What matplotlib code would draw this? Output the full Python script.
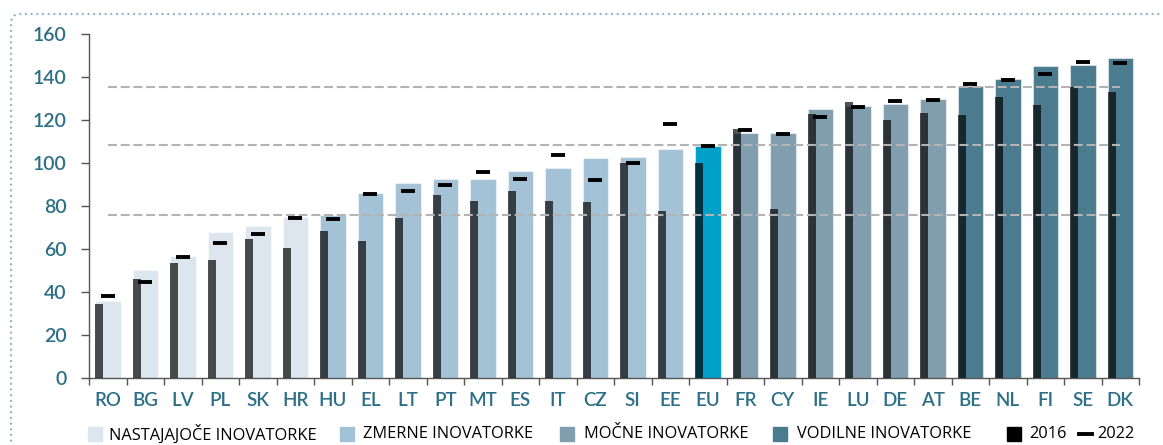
import matplotlib
matplotlib.use("Agg")
import matplotlib.pyplot as plt
from matplotlib.patches import Rectangle, FancyBboxPatch
from matplotlib.lines import Line2D
from matplotlib.transforms import IdentityTransform
import numpy as np

countries = ['RO', 'BG', 'LV', 'PL', 'SK', 'HR', 'HU', 'EL', 'LT', 'PT', 'MT', 'ES', 'IT', 'CZ',
             'SI', 'EE', 'EU', 'FR', 'CY', 'IE', 'LU', 'DE', 'AT', 'BE', 'NL', 'FI', 'SE', 'DK']
groups = ['e'] * 6 + ['m'] * 10 + ['eu'] + ['s'] * 6 + ['l'] * 5
score_2023 = [35.7, 50.4, 56.6, 67.8, 70.9, 75.1, 76.0, 86.0, 90.6, 92.7, 92.8, 96.5, 97.6, 102.4,
              102.9, 106.8, 108.2, 113.9, 114.1, 125.4, 126.8, 127.6, 129.7, 136.1, 139.2, 145.4, 145.8, 149.0]
score_2016 = [34.4, 46.2, 53.5, 54.8, 64.9, 60.7, 68.6, 63.9, 74.3, 85.0, 82.2, 87.1, 82.4, 81.8,
              100.1, 77.8, 100.0, 115.8, 78.7, 123.1, 128.7, 120.1, 123.5, 122.3, 131.0, 127.3, 135.3, 133.3]
score_2022 = [38.3, 44.5, 56.3, 62.9, 66.9, 74.3, 73.9, 85.8, 87.2, 89.9, 95.7, 92.8, 103.8, 92.2,
              99.9, 118.4, 108.2, 115.6, 113.8, 121.7, 126.2, 129.1, 129.5, 136.9, 138.6, 141.7, 147.3, 146.6]
eu_value = 108.5
thresholds = [eu_value * 0.7, eu_value, eu_value * 1.25]

group_colors = {'e': '#dde5ef', 'm': '#a4c2d6', 'eu': '#00a0c8', 's': '#819eaf', 'l': '#4b7b8f'}
legend_labels = ['NASTAJAJOČE INOVATORKE', 'ZMERNE INOVATORKE', 'MOČNE INOVATORKE', 'VODILNE INOVATORKE']
tick_color = '#2d6f87'

fig = plt.figure(figsize=(11.63, 4.45), dpi=100)
ax = fig.add_axes([89 / 1163, 67 / 445, 1050 / 1163, 343.6 / 445])

x = np.arange(len(countries))
colors = [group_colors[g] for g in groups]
ax.bar(x - 0.34, score_2023, width=0.68, align='edge', color=colors,
       edgecolor=(1, 1, 1, 0.5), linewidth=0.8, zorder=2)
ax.bar(x - 0.34, score_2016, width=0.22, align='edge', color='black', alpha=0.68,
       linewidth=0, zorder=3)
ax.hlines(thresholds, 0, len(countries) - 1, colors='#b3b3b3', linewidth=1.5,
          linestyles=(0, (4.3, 1.8)), zorder=4)
ax.hlines(score_2022, x - 0.19, x + 0.19, colors='black', linewidth=2.8, zorder=5)

ax.set_xlim(-0.5, len(countries) - 0.5)
ax.set_ylim(0, 160)
ax.set_yticks(range(0, 161, 20))
ax.set_xticks(x)
ax.set_xticklabels(countries)
ax.set_xticks(np.arange(-0.5, len(countries), 1), minor=True)
ax.tick_params(axis='x', which='major', length=0, pad=10, labelsize=13.5, labelcolor=tick_color)
ax.tick_params(axis='x', which='minor', length=5, width=1, color='#555555', direction='out')
ax.tick_params(axis='y', length=6, width=1, color='#555555', pad=10, labelsize=14, labelcolor=tick_color)
for lab in ax.get_xticklabels() + ax.get_yticklabels():
    lab.set_fontfamily('Lato')
    lab.set_fontweight('semibold')
for s in ['top', 'right']:
    ax.spines[s].set_visible(False)
for s in ['left', 'bottom']:
    ax.spines[s].set_color('#555555')
    ax.spines[s].set_linewidth(1)

# legend drawn by hand in pixel coordinates
ident = IdentityTransform()
H = 445
leg_y = H - 434
sq_x = [88, 340, 560, 773]
txt_x = [109, 363, 584, 797]
for sx, tx, g, lab in zip(sq_x, txt_x, ['e', 'm', 's', 'l'], legend_labels):
    fig.add_artist(Rectangle((sx, leg_y - 7), 14, 14, transform=ident, color=group_colors[g]))
    fig.text(tx / 1163, leg_y / H, lab, fontsize=11.8, family='Open Sans', va='center', ha='left')
fig.add_artist(Rectangle((1007, leg_y - 7), 14, 14, transform=ident, color='black'))
fig.text(1029 / 1163, leg_y / H, '2016', fontsize=11.8, family='Open Sans', va='center', ha='left')
fig.add_artist(Line2D([1079, 1092], [leg_y, leg_y], transform=ident, color='black', linewidth=2.8))
fig.text(1097 / 1163, leg_y / H, '2022', fontsize=11.8, family='Open Sans', va='center', ha='left')

# dotted rounded frame, running off the right and bottom edges
frame = FancyBboxPatch((11, -60), 1300, H - 14 + 60, boxstyle='round,pad=0,rounding_size=9',
                       transform=ident, fill=False, edgecolor='#8fb0c8', linewidth=1.7,
                       linestyle=(0, (0.01, 2.4)), capstyle='round')
fig.add_artist(frame)

fig.savefig('out.png', dpi=100)
